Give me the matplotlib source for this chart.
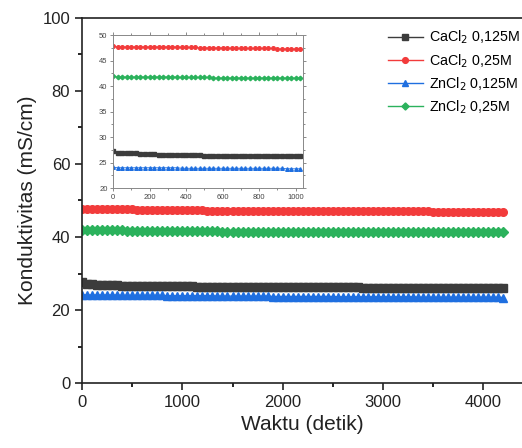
import numpy as np
import matplotlib
matplotlib.use('Agg')
import matplotlib.pyplot as plt
from matplotlib.ticker import MultipleLocator

plt.rcParams['font.family'] = ['Liberation Sans', 'DejaVu Sans']

# main plot data (time step 50 s)
t_main = np.arange(0, 4201, 50)
cacl2_0125 = [27.6, 27.2, 27.0, 26.9, 26.9, 26.8, 26.8, 26.8, 26.7, 26.7,
              26.7, 26.7, 26.6, 26.6, 26.6, 26.6, 26.6, 26.5, 26.5, 26.5,
              26.5, 26.5, 26.5, 26.4, 26.4, 26.4, 26.4, 26.4, 26.4, 26.4,
              26.4, 26.3, 26.3, 26.3, 26.3, 26.3, 26.3, 26.3, 26.3, 26.3,
              26.3, 26.3, 26.2, 26.2, 26.2, 26.2, 26.2, 26.2, 26.2, 26.2,
              26.2, 26.2, 26.2, 26.2, 26.2, 26.2, 26.1, 26.1, 26.1, 26.1,
              26.1, 26.1, 26.1, 26.1, 26.1, 26.1, 26.1, 26.1, 26.1, 26.1,
              26.1, 26.1, 26.1, 26.1, 26.1, 26.1, 26.0, 26.0, 26.0, 26.0,
              26.0, 26.0, 26.0, 26.0, 26.0]
cacl2_025 = [47.8, 47.7, 47.7, 47.7, 47.7, 47.7, 47.7, 47.6, 47.6, 47.6,
             47.6, 47.5, 47.5, 47.5, 47.4, 47.4, 47.4, 47.4, 47.3, 47.3,
             47.3, 47.3, 47.3, 47.3, 47.3, 47.2, 47.2, 47.2, 47.2, 47.2,
             47.2, 47.2, 47.2, 47.2, 47.2, 47.1, 47.1, 47.1, 47.1, 47.1,
             47.1, 47.1, 47.1, 47.1, 47.1, 47.1, 47.1, 47.1, 47.1, 47.0,
             47.0, 47.0, 47.0, 47.0, 47.0, 47.0, 47.0, 47.0, 47.0, 47.0,
             47.0, 47.0, 47.0, 47.0, 47.0, 47.0, 47.0, 47.0, 47.0, 47.0,
             46.9, 46.9, 46.9, 46.9, 46.9, 46.9, 46.9, 46.9, 46.9, 46.9,
             46.9, 46.9, 46.9, 46.9, 46.9]
zncl2_0125 = [24.2, 24.1, 24.1, 24.1, 24.1, 24.1, 24.1, 24.1, 24.0, 24.0,
              24.0, 24.0, 24.0, 24.0, 24.0, 24.0, 24.0, 23.9, 23.9, 23.9,
              23.9, 23.9, 23.9, 23.9, 23.9, 23.9, 23.9, 23.8, 23.8, 23.8,
              23.8, 23.8, 23.8, 23.8, 23.8, 23.8, 23.8, 23.8, 23.7, 23.7,
              23.7, 23.7, 23.7, 23.7, 23.7, 23.7, 23.7, 23.7, 23.7, 23.7,
              23.7, 23.6, 23.6, 23.6, 23.6, 23.6, 23.6, 23.6, 23.6, 23.6,
              23.6, 23.6, 23.6, 23.6, 23.6, 23.6, 23.6, 23.5, 23.5, 23.5,
              23.5, 23.5, 23.5, 23.5, 23.5, 23.5, 23.5, 23.5, 23.5, 23.5,
              23.5, 23.5, 23.5, 23.5, 23.4]
zncl2_025 = [41.9, 41.8, 41.8, 41.8, 41.8, 41.8, 41.8, 41.8, 41.8, 41.7,
             41.7, 41.7, 41.7, 41.7, 41.7, 41.7, 41.7, 41.6, 41.6, 41.6,
             41.6, 41.6, 41.6, 41.6, 41.6, 41.6, 41.6, 41.6, 41.5, 41.5,
             41.5, 41.5, 41.5, 41.5, 41.5, 41.5, 41.5, 41.5, 41.5, 41.5,
             41.5, 41.5, 41.5, 41.5, 41.4, 41.4, 41.4, 41.4, 41.4, 41.4,
             41.4, 41.4, 41.4, 41.4, 41.4, 41.4, 41.4, 41.4, 41.4, 41.4,
             41.4, 41.4, 41.4, 41.4, 41.3, 41.3, 41.3, 41.3, 41.3, 41.3,
             41.3, 41.3, 41.3, 41.3, 41.3, 41.3, 41.3, 41.3, 41.3, 41.3,
             41.3, 41.3, 41.3, 41.3, 41.3]

# inset data (time step 25 s, first 1025 s)
t_in = np.arange(0, 1026, 25)
cacl2_0125_in = [27.3, 26.8, 26.8, 26.8, 26.8, 26.8, 26.7, 26.7, 26.7, 26.7,
                 26.6, 26.6, 26.6, 26.6, 26.6, 26.5, 26.5, 26.5, 26.5, 26.5,
                 26.4, 26.4, 26.4, 26.4, 26.4, 26.4, 26.4, 26.4, 26.4, 26.4,
                 26.4, 26.4, 26.4, 26.4, 26.4, 26.4, 26.3, 26.3, 26.3, 26.3,
                 26.3, 26.3]
cacl2_025_in = [47.8, 47.7, 47.7, 47.7, 47.7, 47.7, 47.7, 47.7, 47.7, 47.7,
                47.7, 47.7, 47.7, 47.7, 47.7, 47.6, 47.6, 47.6, 47.6, 47.5,
                47.5, 47.5, 47.5, 47.5, 47.5, 47.5, 47.4, 47.4, 47.4, 47.4,
                47.4, 47.4, 47.4, 47.4, 47.4, 47.4, 47.3, 47.3, 47.3, 47.3,
                47.3, 47.3]
zncl2_0125_in = [24.1, 24.0, 24.0, 24.0, 24.0, 24.0, 24.0, 24.0, 24.0, 24.0,
                 24.0, 24.0, 24.0, 24.0, 24.0, 23.9, 23.9, 23.9, 23.9, 23.9,
                 23.9, 23.9, 23.9, 23.9, 23.9, 23.9, 23.9, 23.9, 23.9, 23.9,
                 23.9, 23.9, 23.9, 23.9, 23.9, 23.9, 23.9, 23.9, 23.8, 23.8,
                 23.8, 23.8]
zncl2_025_in = [41.9, 41.8, 41.8, 41.8, 41.8, 41.8, 41.8, 41.8, 41.8, 41.8,
                41.8, 41.8, 41.8, 41.8, 41.8, 41.7, 41.7, 41.7, 41.7, 41.7,
                41.7, 41.7, 41.6, 41.6, 41.6, 41.6, 41.6, 41.6, 41.6, 41.6,
                41.6, 41.6, 41.6, 41.6, 41.6, 41.6, 41.6, 41.6, 41.6, 41.6,
                41.6, 41.6]

labels = ['CaCl$_2$ 0,125M', 'CaCl$_2$ 0,25M', 'ZnCl$_2$ 0,125M', 'ZnCl$_2$ 0,25M']
colors = ['#3c3c3c', '#f23b3b', '#1f6fe0', '#2bb25c']
markers = ['s', 'o', '^', 'D']
main_series = [cacl2_0125, cacl2_025, zncl2_0125, zncl2_025]
inset_series = [cacl2_0125_in, cacl2_025_in, zncl2_0125_in, zncl2_025_in]

fig = plt.figure(figsize=(5.22, 4.48), dpi=100)
ax = fig.add_axes([0.157, 0.145, 0.846, 0.815])

for ys, c, m, lab in zip(main_series, colors, markers, labels):
    ax.plot(t_main, ys, color=c, marker=m, markersize=5.5 if m != 'D' else 4.8,
            lw=1, label=lab)

ax.set_xlim(0, 4400)
ax.set_ylim(0, 100)
ax.xaxis.set_major_locator(MultipleLocator(1000))
ax.xaxis.set_minor_locator(MultipleLocator(500))
ax.yaxis.set_major_locator(MultipleLocator(20))
ax.yaxis.set_minor_locator(MultipleLocator(10))
ax.tick_params(which='major', direction='out', length=5, width=1.2, labelsize=12, colors='#222222')
ax.tick_params(which='minor', direction='out', length=3, width=1.2)
for s in ax.spines.values():
    s.set_linewidth(1.2)
    s.set_color('#222222')
ax.set_xlabel('Waktu (detik)', fontsize=15, color='#222222')
ax.set_ylabel('Konduktivitas (mS/cm)', fontsize=15, color='#222222', labelpad=4)

ax.legend(loc='upper left', bbox_to_anchor=(0.732, 0.948), bbox_transform=fig.transFigure,
          frameon=False, fontsize=10.3, handlelength=2.45, labelspacing=0.4,
          handletextpad=0.45, borderaxespad=0, markerscale=0.75)

# inset
axin = fig.add_axes([0.2165, 0.580, 0.364, 0.3415])
for ys, c, m in zip(inset_series, colors, markers):
    axin.plot(t_in, ys, color=c, marker=m, markersize=2.6 if m != 'D' else 2.3, lw=0.6)
axin.set_xlim(0, 1040)
axin.set_ylim(20, 50)
axin.xaxis.set_major_locator(MultipleLocator(200))
axin.xaxis.set_minor_locator(MultipleLocator(100))
axin.yaxis.set_major_locator(MultipleLocator(5))
axin.yaxis.set_minor_locator(MultipleLocator(2.5))
axin.tick_params(which='both', direction='out', top=True, right=True,
                 labelsize=5.5, labelcolor='#444444', colors='#777777', width=0.6)
axin.tick_params(which='major', length=2.5, pad=1.5)
axin.tick_params(which='minor', length=1.5)
for s in axin.spines.values():
    s.set_linewidth(0.7)
    s.set_color('#888888')

fig.savefig('out.png', dpi=100)
